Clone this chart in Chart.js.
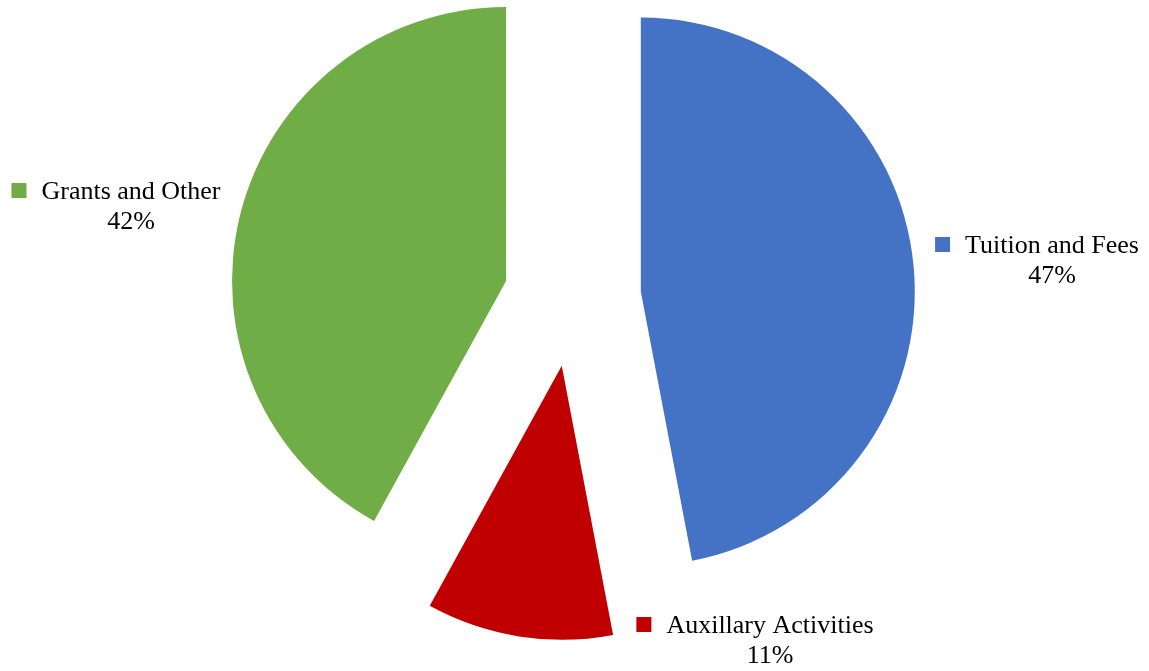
<!DOCTYPE html>
<html>
<head>
<meta charset="utf-8">
<script src="https://cdn.jsdelivr.net/npm/chart.js@4.4.1/dist/chart.umd.min.js"></script>
<style>
  html, body { margin: 0; padding: 0; background: #fff; }
  #wrap { width: 1149px; height: 671px; position: relative; }
</style>
</head>
<body>
<div id="wrap"><canvas id="chart"></canvas></div>
<script>
// ---- data ----
const categories = ["Tuition and Fees", "Auxillary Activities", "Grants and Other"];
const shares = [47, 11, 42];
const sliceColors = ["#4472C4", "#C00000", "#70AD47"];

// label anchors (text centre x, first-line baseline y) — placed like the original
const labelAnchors = [
  { x: 1052, y: 253 },
  { x: 770, y: 633 },
  { x: 131, y: 199 },
];

const EXPLODE = 68.6; // px each slice is pulled out along its bisector
const FONT = '26px "Times New Roman", "Liberation Serif", serif';

/* ---------- explode slices (Excel style, no radius growth) ---------- */
const explodePlugin = {
  id: "explode",
  afterDatasetsUpdate(chart) {
    chart.getDatasetMeta(0).data.forEach((arc) => {
      const mid = (arc.startAngle + arc.endAngle) / 2;
      arc.x += Math.cos(mid) * EXPLODE;
      arc.y += Math.sin(mid) * EXPLODE;
    });
  },
};

/* ---------- data labels with legend key ---------- */
const labelPlugin = {
  id: "sliceLabels",
  afterDraw(chart) {
    const ctx = chart.ctx;
    const total = shares.reduce((a, b) => a + b, 0);
    ctx.save();
    ctx.font = FONT;
    ctx.fillStyle = "#000";
    ctx.textBaseline = "alphabetic";
    ctx.textAlign = "center";
    categories.forEach((name, i) => {
      const a = labelAnchors[i];
      const w = ctx.measureText(name).width;
      ctx.fillText(name, a.x, a.y);
      ctx.fillText(Math.round((shares[i] / total) * 100) + "%", a.x, a.y + 30);
      ctx.fillStyle = sliceColors[i];
      ctx.fillRect(a.x - w / 2 - 30, a.y - 16, 15, 15);
      ctx.fillStyle = "#000";
    });
    ctx.restore();
  },
};

new Chart(document.getElementById("chart"), {
  type: "pie",
  data: {
    labels: categories,
    datasets: [{
      data: shares,
      backgroundColor: sliceColors,
      borderWidth: 0,
    }],
  },
  options: {
    responsive: true,
    maintainAspectRatio: false,
    animation: false,
    radius: 274,
    layout: { padding: { left: 2, right: 6, top: 0, bottom: 75 } },
    plugins: {
      legend: { display: false },
      tooltip: { enabled: false },
    },
  },
  plugins: [explodePlugin, labelPlugin],
});
</script>
</body>
</html>
